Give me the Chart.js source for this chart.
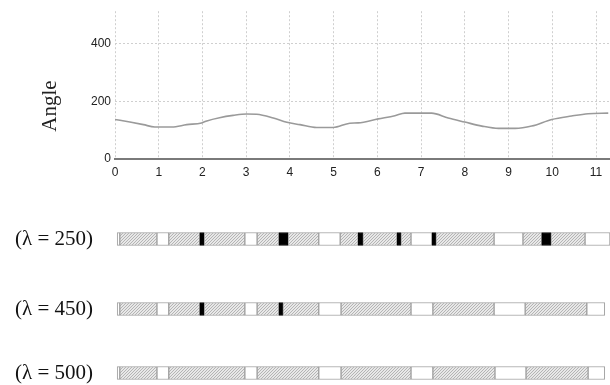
<!DOCTYPE html>
<html><head><meta charset="utf-8">
<script src="https://cdn.jsdelivr.net/npm/chart.js@4/dist/chart.umd.min.js"></script>
<style>
html,body{margin:0;padding:0;background:#fff;}
body{width:610px;height:385px;position:relative;overflow:hidden;}
.c{position:absolute;left:0;width:610px;}
canvas{display:block;}
</style></head><body>
<div class="c" style="top:0;height:185px"><canvas id="top" width="610" height="185"></canvas></div>
<div class="c" style="top:209px;height:60px"><canvas id="r0" width="610" height="60"></canvas></div>
<div class="c" style="top:279px;height:60px"><canvas id="r1" width="610" height="60"></canvas></div>
<div class="c" style="top:343px;height:60px"><canvas id="r2" width="610" height="60"></canvas></div>
<script>
// ---- data ----
const xTicks = [0,1,2,3,4,5,6,7,8,9,10,11];
const yTicks = [0,200,400];
const yTitle = 'Angle';
const angleX = [0,0.34,0.65,0.91,1.3,1.64,1.98,2.1,2.39,2.7,3.01,3.24,3.62,3.93,4.23,4.61,4.99,5.37,5.56,6.02,6.4,6.63,7.24,7.62,8.0,8.39,8.77,9.15,9.53,9.99,10.44,10.82,11.28];
const angleY = [137,128,119,111,111,119,125,132,143,151,156,155,142,127,119,109,109,124,125,139,150,159,159,142,128,114,106,106,114,137,149,157,159];
const rowLabels = ['(λ = 250)','(λ = 450)','(λ = 500)'];
// segment boundaries (same time axis) and kinds: w = empty, h = hatched, b = black
const row250Bounds = [0.05,0.11,0.96,1.23,1.94,2.04,2.97,3.25,3.75,3.96,4.66,5.15,5.56,5.67,6.45,6.54,6.77,7.25,7.34,8.67,9.33,9.76,9.97,10.75,11.32];
const row250Kinds  = ['w','h','w','h','b','h','w','h','b','h','w','h','b','h','b','h','w','b','h','w','h','b','h','w'];
const row450Bounds = [0.05,0.11,0.96,1.23,1.94,2.04,2.97,3.25,3.75,3.84,4.66,5.17,6.77,7.27,8.67,9.38,10.79,11.20];
const row450Kinds  = ['w','h','w','h','b','h','w','h','b','h','w','h','w','h','w','h','w'];
const row500Bounds = [0.05,0.11,0.96,1.23,2.97,3.25,4.66,5.17,6.77,7.27,8.69,9.40,10.82,11.20];
const row500Kinds  = ['w','h','w','h','w','h','w','h','w','h','w','h','w'];
const xMin = 0, xMax = 11.32, yMin = 0, yMax = 512;

// ---- styles ----
const serif = "'Liberation Serif', 'Times New Roman', serif";
Chart.defaults.font.family = "'Liberation Sans', Arial, sans-serif";
Chart.defaults.font.size = 12;
Chart.defaults.color = '#333';

const pc = document.createElement('canvas');
pc.width = 3; pc.height = 3;
const g = pc.getContext('2d');
g.fillStyle = '#e8e8e8'; g.fillRect(0,0,3,3);
g.strokeStyle = '#b4b4b4'; g.lineWidth = 1;
g.beginPath();
g.moveTo(0,3); g.lineTo(3,0);
g.moveTo(-1,1); g.lineTo(1,-1);
g.moveTo(2,4); g.lineTo(4,2);
g.stroke();
const hatch = g.createPattern(pc, 'repeat');

// y-axis title, drawn a little below the centre of the plot as in the reference
const axisTitle = {
  id: 'axisTitle',
  afterDraw(chart) {
    const ctx = chart.ctx, a = chart.chartArea;
    ctx.save();
    ctx.translate(a.left - 65, (a.top + a.bottom) / 2 + 21);
    ctx.rotate(-Math.PI / 2);
    ctx.font = '21px ' + serif;
    ctx.fillStyle = '#222';
    ctx.textAlign = 'center';
    ctx.textBaseline = 'middle';
    ctx.fillText(yTitle, 0, 0);
    ctx.restore();
  }
};

new Chart(document.getElementById('top'), {
  type: 'line',
  data: {
    datasets: [{
      data: angleX.map((x,i)=>({x:x, y:angleY[i]})),
      borderColor: '#9a9a9a', borderWidth: 1.6, pointRadius: 0,
      cubicInterpolationMode: 'monotone', fill: false
    }]
  },
  plugins: [axisTitle],
  options: {
    responsive: false, animation: false,
    layout: { padding: { top: 9, right: 0, left: 0, bottom: 0 } },
    plugins: { legend: { display: false }, tooltip: { enabled: false } },
    scales: {
      x: {
        type: 'linear', min: xMin, max: xMax,
        afterBuildTicks: s => { s.ticks = xTicks.map(v => ({value: v})); },
        afterFit: s => { s.height = 26; },
        grid: { color: '#cfcfcf', lineWidth: 1, drawTicks: false },
        border: { display: true, color: '#7a7a7a', width: 2, dash: [2,2] },
        ticks: { padding: 6, maxRotation: 0, autoSkip: false, color: '#222' }
      },
      y: {
        min: yMin, max: yMax,
        afterBuildTicks: s => { s.ticks = yTicks.map(v => ({value: v})); },
        afterFit: s => { s.width = 115; },
        grid: { color: '#cfcfcf', lineWidth: 1, drawTicks: false },
        border: { display: false, dash: [2,2] },
        ticks: { padding: 4, color: '#222' }
      }
    }
  }
});

function rowChart(id, label, bounds, kinds) {
  new Chart(document.getElementById(id), {
    type: 'bar',
    data: {
      labels: [label],
      datasets: [{
        data: kinds.map((k,i) => ({ x: [bounds[i], bounds[i+1]], y: label })),
        backgroundColor: c => { const k = kinds[c.dataIndex]; return k === 'h' ? hatch : (k === 'b' ? '#000' : '#fff'); },
        borderColor: c => kinds[c.dataIndex] === 'b' ? '#000' : '#a0a0a0',
        borderWidth: 1,
        borderSkipped: false,
        barThickness: 13
      }]
    },
    options: {
      indexAxis: 'y', responsive: false, animation: false,
      plugins: { legend: { display: false }, tooltip: { enabled: false } },
      scales: {
        x: { type: 'linear', min: xMin, max: xMax, display: false },
        y: {
          afterFit: s => { s.width = 115; },
          grid: { display: false, drawTicks: true, tickLength: 22 },
          border: { display: false },
          ticks: { padding: 0, color: '#111', font: { family: serif, size: 21 } }
        }
      }
    }
  });
}
rowChart('r0', rowLabels[0], row250Bounds, row250Kinds);
rowChart('r1', rowLabels[1], row450Bounds, row450Kinds);
rowChart('r2', rowLabels[2], row500Bounds, row500Kinds);
</script>
</body></html>
